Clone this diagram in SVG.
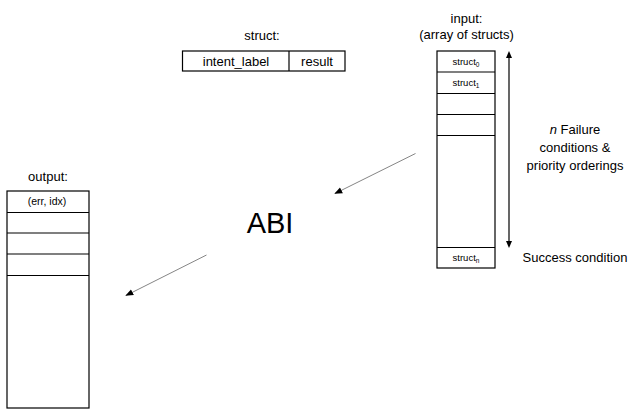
<svg xmlns="http://www.w3.org/2000/svg" width="644" height="418" viewBox="0 0 644 418">
<style>
text{font-family:"Liberation Sans",Arial,sans-serif;fill:#000}
.lbl{font-size:13px;text-anchor:middle}
.sm{font-size:9.5px;text-anchor:middle}
.sub{font-size:6.5px}
.box{fill:#fff;stroke:#000;stroke-width:1.2}
.ln{stroke:#000;stroke-width:1.2}
.conn{stroke:#666;stroke-width:0.8;fill:none}
</style>
<defs>
<marker id="ah" viewBox="0 0 10 10" refX="9" refY="5" markerWidth="8" markerHeight="8" markerUnits="userSpaceOnUse" orient="auto">
<path d="M0,1 L10,5 L0,9 z" fill="#000"/>
</marker>
</defs>
<rect width="644" height="418" fill="#fff"/>
<g id="struct">
<text class="lbl" x="262" y="40">struct:</text>
<rect class="box" x="182.5" y="51" width="162.5" height="20"/>
<line class="ln" x1="289" y1="51" x2="289" y2="71"/>
<text class="lbl" x="236" y="66">intent_label</text>
<text class="lbl" x="317" y="66">result</text>
</g>
<g id="input">
<text class="lbl" x="466.5" y="23">input:</text>
<text class="lbl" x="466.5" y="39">(array of structs)</text>
<rect class="box" x="437" y="51" width="58" height="217"/>
<line class="ln" x1="437" y1="72" x2="495" y2="72"/>
<line class="ln" x1="437" y1="93.5" x2="495" y2="93.5"/>
<line class="ln" x1="437" y1="114.5" x2="495" y2="114.5"/>
<line class="ln" x1="437" y1="135.5" x2="495" y2="135.5"/>
<line class="ln" x1="437" y1="247.5" x2="495" y2="247.5"/>
<text class="sm" x="466" y="65">struct<tspan class="sub" dy="2">0</tspan></text>
<text class="sm" x="466" y="86">struct<tspan class="sub" dy="2">1</tspan></text>
<text class="sm" x="466" y="261">struct<tspan class="sub" dy="2">n</tspan></text>
</g>
<g id="range">
<line class="ln" x1="509" y1="56" x2="509" y2="243" stroke-width="1"/>
<path d="M506,58 L509,51 L512,58 z" fill="#000"/>
<path d="M506,241 L509,248 L512,241 z" fill="#000"/>
<text class="lbl" x="575" y="134"><tspan font-style="italic">n</tspan> Failure</text>
<text class="lbl" x="575" y="152">conditions &amp;</text>
<text class="lbl" x="575" y="170">priority orderings</text>
<text class="lbl" x="575" y="262">Success condition</text>
</g>
<g id="output">
<text class="lbl" x="48" y="181">output:</text>
<rect class="box" x="7" y="191" width="82" height="217"/>
<line class="ln" x1="7" y1="212.5" x2="89" y2="212.5"/>
<line class="ln" x1="7" y1="233" x2="89" y2="233"/>
<line class="ln" x1="7" y1="254" x2="89" y2="254"/>
<line class="ln" x1="7" y1="275.5" x2="89" y2="275.5"/>
<text x="47" y="205" style="font-size:10.5px;text-anchor:middle">(err, idx)</text>
</g>
<g id="abi">
<text x="270" y="233" font-size="29" text-anchor="middle">ABI</text>
</g>
<g id="connectors">
<line class="conn" x1="415.5" y1="153.5" x2="335" y2="193.5" marker-end="url(#ah)"/>
<line class="conn" x1="206.5" y1="255" x2="126" y2="295.5" marker-end="url(#ah)"/>
</g>
</svg>
